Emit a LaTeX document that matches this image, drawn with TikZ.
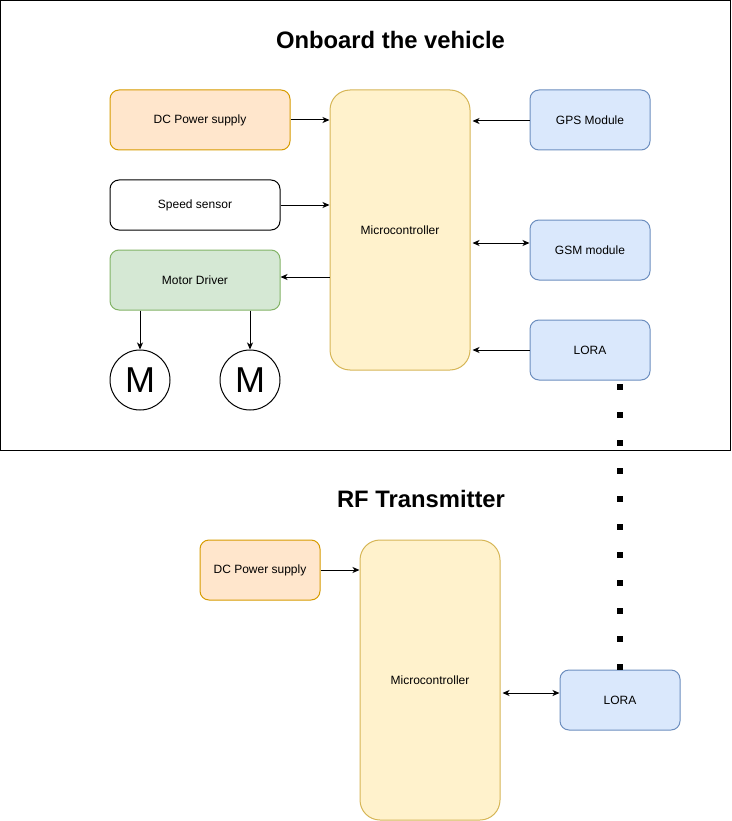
\documentclass[tikz,border=0pt]{standalone}
\usepackage{fontspec}
\setmainfont{Liberation Sans}
\usepackage{xcolor}
\usetikzlibrary{positioning,shapes,arrows.meta}

\definecolor{dcfill}{HTML}{FFE6CC}
\definecolor{dcline}{HTML}{D79B00}
\definecolor{mcfill}{HTML}{FFF2CC}
\definecolor{mcline}{HTML}{D6B656}
\definecolor{mdfill}{HTML}{D5E8D4}
\definecolor{mdline}{HTML}{82B366}
\definecolor{modfill}{HTML}{DAE8FC}
\definecolor{modline}{HTML}{6C8EBF}

\begin{document}
\begin{tikzpicture}[x=1pt,y=-1pt,line width=1pt,
  >={Stealth[length=7pt,width=6pt,inset=2pt]},
  block/.style={draw,rectangle,rounded corners=9pt,inner sep=0pt,
    font=\fontsize{12}{14}\selectfont},
  power/.style={block,fill=dcfill,draw=dcline},
  ctrl/.style={block,fill=mcfill,draw=mcline,rounded corners=20pt,
    minimum width=140pt,minimum height=280pt},
  driver/.style={block,fill=mdfill,draw=mdline},
  module/.style={block,fill=modfill,draw=modline,
    minimum width=120pt,minimum height=60pt},
  motor/.style={draw,circle,minimum size=60pt,inner sep=0pt,
    font=\fontsize{36}{40}\selectfont},
  heading/.style={font=\fontsize{23.8}{28}\selectfont\bfseries}]
\useasboundingbox (0,0) rectangle (731,821);
% onboard frame
\draw (0.5,0.5) rectangle (730.5,450);
\node [heading] (title1) at (390.5,40) {Onboard the vehicle};
\node [power,minimum width=180pt,minimum height=60pt] (dc1) at (200,120) {DC Power supply};
\node [block,minimum width=170pt,minimum height=50pt] (ss) at (195,205) {Speed sensor};
\node [driver,minimum width=170pt,minimum height=60pt] (md) at (195,280) {Motor Driver};
\node [ctrl] (mc1) at (400,230) {Microcontroller};
\node [module] (gps) at (590,120) {GPS Module};
\node [module] (gsm) at (590,250) {GSM module};
\node [module] (lora1) at (590,350) {LORA};
\node [motor] (m1) at (140,380) {M};
\node [motor] (m2) at (250,380) {M};
\draw [->] (dc1.east) -- (dc1.east -| mc1.west);
\draw [->] (ss.east) -- (ss.east -| mc1.west);
\draw [->] ([yshift=3pt]mc1.west |- md.east) -- ([yshift=3pt]md.east);
\draw [->] (m1.north |- md.south) -- (m1.north);
\draw [->] (m2.north |- md.south) -- (m2.north);
\draw [->] ([yshift=-1pt]gps.west) -- ([xshift=2pt,yshift=-1pt]gps.west -| mc1.east);
\draw [<->] ([xshift=2pt,yshift=7pt]gsm.west -| mc1.east) -- ([yshift=7pt]gsm.west);
\draw [->] (lora1.west) -- ([xshift=2pt]lora1.west -| mc1.east);
% rf transmitter
\node [heading] (title2) at (421,499) {RF Transmitter};
\node [power,minimum width=120pt,minimum height=60pt] (dc2) at (260,570) {DC Power supply};
\node [ctrl] (mc2) at (430,680) {Microcontroller};
\node [module] (lora2) at (620,700) {LORA};
\draw [->] (dc2.east) -- (dc2.east -| mc2.west);
\draw [<->] ([xshift=2pt,yshift=7pt]lora2.west -| mc2.east) -- ([yshift=7pt]lora2.west);
% radio link
\draw [line width=6pt,dash pattern=on 6pt off 22pt] (lora2.north) -- (lora2.north |- lora1.south);
\end{tikzpicture}
\end{document}
